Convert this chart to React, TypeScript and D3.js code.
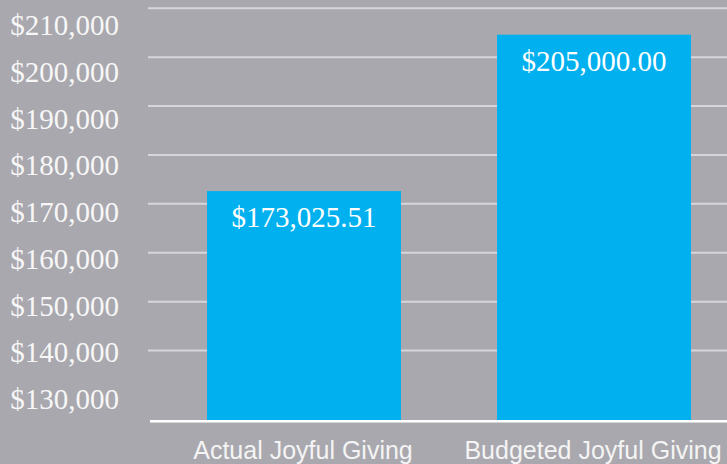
import React from "react";
import * as d3 from "d3";

const categories = ["Actual Joyful Giving", "Budgeted Joyful Giving"];
const values = [173025.51, 205000];
const valueLabels = ["$173,025.51", "$205,000.00"];
const tickValues = [130000, 140000, 150000, 160000, 170000, 180000, 190000, 200000, 210000];
const gridValues = [140000, 150000, 160000, 170000, 180000, 190000, 200000, 210000];

const W = 727;
const H = 464;
const BG = "#a9a8ae";
const BAR = "#00b0ef";

export default function App() {
  const y = d3.scaleLinear().domain([126000, 212000]).range([421, 0.5]);
  const labelY = d3.scaleLinear().domain([130000, 210000]).range([409, 35]);
  const x = d3
    .scaleBand<string>()
    .domain(categories)
    .range([159, 739])
    .paddingInner(0.331)
    .paddingOuter(0.1655);
  const fmt = d3.format("$,");

  return (
    <div style={{ position: "fixed", left: 0, top: 0, width: W, height: H }}>
      <svg width={W} height={H} style={{ display: "block" }}>
        <rect x={0} y={0} width={W} height={H} fill={BG} />
        {gridValues.map((v) => (
          <line
            key={v}
            x1={148}
            x2={W}
            y1={y(v) - 2}
            y2={y(v) - 2}
            stroke="#d6d6da"
            strokeWidth={2}
          />
        ))}
        {tickValues.map((v) => (
          <text
            key={"t" + v}
            x={119}
            y={labelY(v)}
            textAnchor="end"
            fill="#f7f7f7"
            fontFamily="'Liberation Serif', 'Times New Roman', serif"
            fontSize={29}
          >
            {fmt(v)}
          </text>
        ))}
        {categories.map((c, i) => (
          <rect
            key={c}
            x={x(c)}
            y={y(values[i])}
            width={x.bandwidth()}
            height={y(126000) - y(values[i])}
            fill={BAR}
          />
        ))}
        <line x1={150} x2={W} y1={421.3} y2={421.3} stroke="#ffffff" strokeWidth={2.5} />
        {categories.map((c, i) => (
          <text
            key={"v" + c}
            x={(x(c) as number) + x.bandwidth() / 2}
            y={y(values[i]) + 36}
            textAnchor="middle"
            fill="#ffffff"
            fontFamily="'Liberation Serif', 'Times New Roman', serif"
            fontSize={29}
          >
            {valueLabels[i]}
          </text>
        ))}
        {categories.map((c) => (
          <text
            key={"x" + c}
            x={(x(c) as number) + x.bandwidth() / 2 - 1}
            y={459}
            textAnchor="middle"
            fill="#f4f4f4"
            fontFamily="'Liberation Sans', Arial, sans-serif"
            fontSize={25}
          >
            {c}
          </text>
        ))}
      </svg>
    </div>
  );
}
